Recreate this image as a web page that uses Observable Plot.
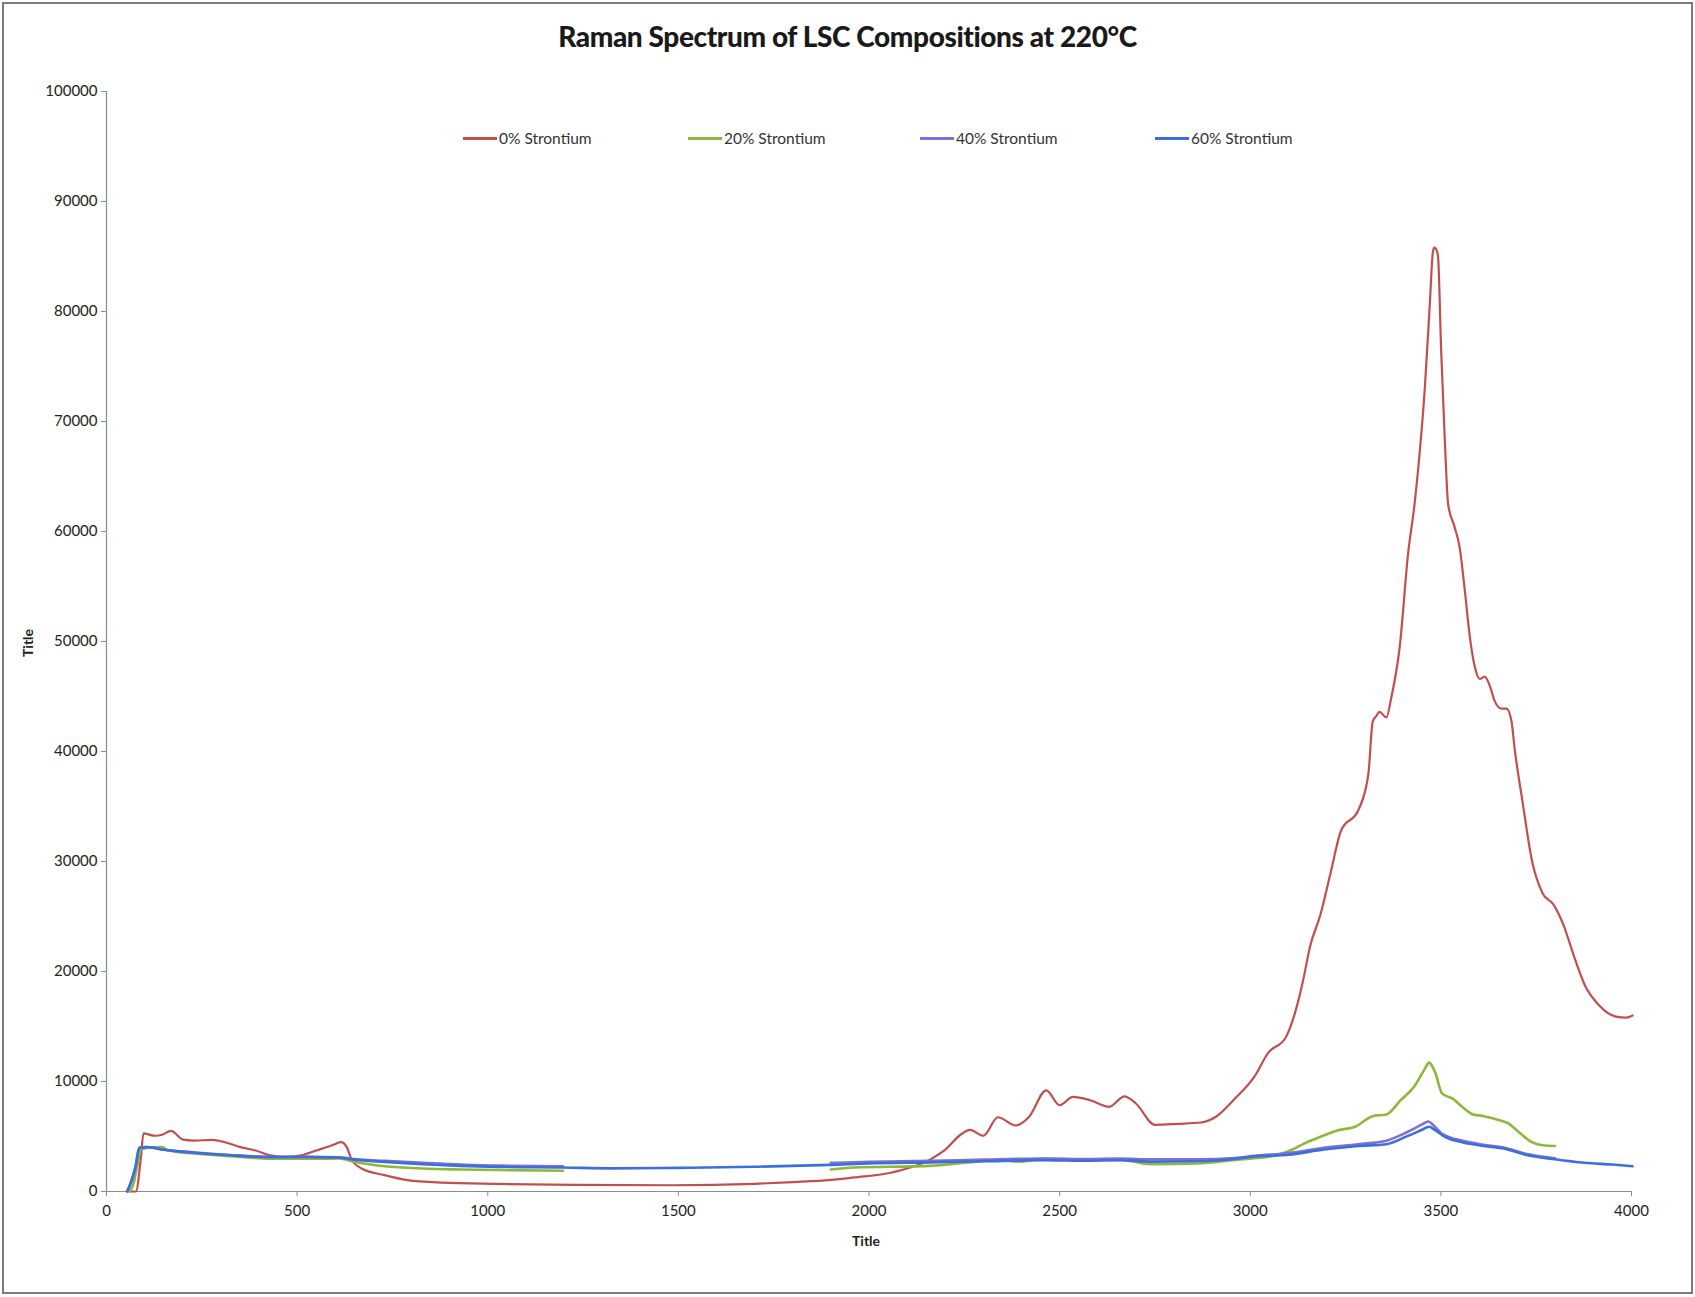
<!DOCTYPE html>
<html>
<head>
<meta charset="utf-8">
<script src="https://cdn.jsdelivr.net/npm/d3@7"></script>
<script src="https://cdn.jsdelivr.net/npm/@observablehq/plot@0.6"></script>
<style>
  html, body { margin: 0; padding: 0; background: #fff; }
  #page { position: relative; width: 1695px; height: 1297px; overflow: hidden; font-family: Lato, "Open Sans", sans-serif; }
  #frame { position: absolute; left: 2px; top: 2px; width: 1687px; height: 1288px; border: 2px solid #7a7a7a; pointer-events: none; }
  #title { position: absolute; left: 0; top: 0; width: 1695px; height: 60px; text-align: center; font-weight: 900; font-size: 28px; line-height: 72px; color: #1a1a1a; letter-spacing: -0.4px; }
  #chart { position: absolute; left: 0; top: 60px; }
  .legend { position: absolute; top: 129px; font-size: 15.5px; color: #333; display: flex; align-items: center; white-space: nowrap; }
  .legend .sw { display: inline-block; width: 34px; height: 3px; margin-right: 2px; }
  .axtitle { position: absolute; font-weight: 700; font-size: 14px; color: #222; }
</style>
</head>
<body>
<div id="page">
  <div id="title">Raman Spectrum of LSC Compositions at 220°C</div>
  <div id="chart"></div>
  <div id="legend"></div>
  <div class="axtitle" style="left:852px; top:1232px;">Title</div>
  <div class="axtitle" style="left:12px; top:632px; transform: rotate(-90deg); transform-origin: 16px 9px;">Title</div>
  <div id="frame"></div>
</div>
<script>
// ---- Data ----
const seriesNames = ["0% Strontium", "20% Strontium", "40% Strontium", "60% Strontium"];
const seriesColors = ["#c0504d", "#8db83a", "#7f6fd6", "#3c6fdc"];

const xTicks = [0, 500, 1000, 1500, 2000, 2500, 3000, 3500, 4000];
const yTicks = [0, 10000, 20000, 30000, 40000, 50000, 60000, 70000, 80000, 90000, 100000];

// 0% Strontium (one continuous trace)
const sr0_x = [62, 77, 90, 97, 127, 146, 169, 201, 231, 276, 311, 351, 391, 430, 470, 510, 550, 590, 615, 630, 644, 669, 729, 789, 879, 1028, 1227, 1486, 1700, 1800, 1900, 1960, 2060, 2160, 2200, 2240, 2265, 2300, 2338, 2385, 2420, 2465, 2500, 2535, 2580, 2630, 2670, 2700, 2750, 2810, 2870, 2910, 2960, 3010, 3047, 3093, 3120, 3138, 3157, 3184, 3211, 3238, 3284, 3310, 3321, 3330, 3339, 3357, 3370, 3392, 3414, 3431, 3444, 3458, 3471, 3479, 3483, 3492, 3501, 3510, 3519, 3536, 3549, 3562, 3576, 3589, 3602, 3615, 3628, 3641, 3659, 3672, 3685, 3694, 3713, 3740, 3767, 3795, 3822, 3850, 3877, 3913, 3959, 3986, 4003];
const sr0_y = [0, 0, 3000, 5280, 5070, 5160, 5520, 4720, 4630, 4690, 4480, 4030, 3730, 3280, 3130, 3280, 3730, 4180, 4480, 4030, 2840, 2090, 1490, 1040, 810, 690, 600, 570, 700, 850, 1050, 1280, 1730, 2900, 3800, 5160, 5600, 5070, 6750, 6000, 6800, 9200, 7850, 8600, 8300, 7700, 8650, 8000, 6060, 6150, 6270, 6800, 8450, 10400, 12600, 14000, 16560, 19100, 22300, 25160, 29000, 32800, 34700, 38000, 42700, 43200, 43600, 43100, 44900, 49500, 58000, 62500, 67000, 73100, 80700, 85400, 85800, 85200, 76200, 68600, 62500, 60400, 58600, 54900, 50400, 47700, 46600, 46800, 46000, 44600, 43900, 43900, 42800, 40100, 35700, 29900, 27100, 26100, 24200, 21300, 18800, 17000, 15900, 15800, 16000];

// 20% Strontium (two recorded windows)
const sr20a_x = [60, 70, 80, 90, 106, 146, 160, 231, 331, 430, 530, 610, 649, 729, 829, 928, 1028, 1197];
const sr20a_y = [0, 600, 2200, 3800, 3950, 4050, 3750, 3450, 3200, 2980, 2980, 3000, 2700, 2300, 2090, 2000, 1950, 1880];
const sr20b_x = [1900, 1960, 2160, 2260, 2340, 2390, 2460, 2560, 2660, 2740, 2860, 2960, 3060, 3111, 3148, 3193, 3230, 3275, 3321, 3357, 3394, 3430, 3458, 3469, 3485, 3503, 3531, 3558, 3585, 3613, 3649, 3676, 3704, 3740, 3768, 3799];
const sr20b_y = [2000, 2180, 2330, 2630, 2870, 2720, 2990, 2900, 2870, 2480, 2540, 2870, 3220, 3820, 4460, 5100, 5570, 5890, 6850, 7000, 8280, 9550, 11150, 11720, 10830, 8920, 8440, 7640, 7000, 6850, 6530, 6210, 5410, 4460, 4200, 4140];

// 40% Strontium (two recorded windows)
const sr40a_x = [55, 66, 76, 86, 106, 151, 231, 331, 430, 530, 610, 649, 729, 829, 928, 1028, 1197];
const sr40a_y = [0, 1000, 2200, 3950, 4050, 3800, 3550, 3300, 3150, 3150, 3100, 2950, 2780, 2600, 2450, 2350, 2300];
const sr40b_x = [1900, 2000, 2160, 2300, 2460, 2560, 2660, 2740, 2860, 2960, 3011, 3102, 3193, 3284, 3357, 3412, 3448, 3467, 3480, 3503, 3558, 3603, 3667, 3722, 3799];
const sr40b_y = [2600, 2700, 2780, 2900, 3000, 2950, 2990, 2930, 2930, 3050, 3250, 3500, 3980, 4300, 4620, 5410, 6050, 6370, 6050, 5250, 4620, 4300, 3980, 3440, 3030];

// 60% Strontium (one continuous trace)
const sr60_x = [54, 66, 76, 86, 106, 151, 231, 331, 430, 530, 610, 649, 729, 829, 928, 1028, 1197, 1327, 1500, 1700, 1900, 2000, 2160, 2300, 2460, 2560, 2660, 2740, 2860, 2960, 3011, 3102, 3193, 3284, 3357, 3412, 3448, 3469, 3485, 3512, 3558, 3613, 3667, 3722, 3799, 3877, 3950, 4003];
const sr60_y = [0, 1040, 2240, 3970, 4030, 3790, 3520, 3280, 3130, 3130, 3070, 2900, 2690, 2480, 2330, 2240, 2180, 2100, 2150, 2250, 2420, 2550, 2650, 2750, 2850, 2800, 2840, 2720, 2750, 2950, 3180, 3340, 3820, 4140, 4300, 5030, 5570, 5890, 5570, 4940, 4460, 4140, 3890, 3340, 2930, 2610, 2450, 2300];

// ---- Build table ----
function seg(series, segment, xs, ys) {
  return xs.map((x, i) => ({series, segment, x, y: ys[i]}));
}
const rows = [
  ...seg(seriesNames[0], "a", sr0_x, sr0_y),
  ...seg(seriesNames[1], "a", sr20a_x, sr20a_y),
  ...seg(seriesNames[1], "b", sr20b_x, sr20b_y),
  ...seg(seriesNames[2], "a", sr40a_x, sr40a_y),
  ...seg(seriesNames[2], "b", sr40b_x, sr40b_y),
  ...seg(seriesNames[3], "a", sr60_x, sr60_y)
];

const axisGray = "#8c8c8c";

const plot = Plot.plot({
  width: 1695,
  height: 1237,
  marginLeft: 106,
  marginRight: 64,
  marginTop: 31,
  marginBottom: 106,
  style: {fontFamily: "Lato, 'Open Sans', sans-serif", fontSize: "15px", color: "#222", background: "transparent"},
  x: {domain: [0, 4000], label: null},
  y: {domain: [0, 100000], label: null},
  color: {domain: seriesNames, range: seriesColors},
  marks: [
    Plot.ruleY([0], {stroke: axisGray, strokeWidth: 1.2}),
    Plot.ruleX([0], {stroke: axisGray, strokeWidth: 1.2}),
    Plot.axisX({ticks: xTicks, tickFormat: d => String(d), tickSize: 5, tickPadding: 9, stroke: axisGray, fill: "#222", label: null}),
    Plot.axisY({ticks: yTicks, tickFormat: d => String(d), tickSize: 5, tickPadding: 4, stroke: axisGray, fill: "#222", label: null}),
    ...seriesNames.map((name, i) =>
      Plot.line(rows.filter(d => d.series === name), {
        x: "x", y: "y", z: "segment",
        stroke: seriesColors[i],
        strokeWidth: i === 0 ? 2.2 : 2.6,
        curve: "monotone-x"
      })
    )
  ]
});
document.getElementById("chart").appendChild(plot);

// ---- Legend ----
const legendLeft = [463, 688, 920, 1155];
const legend = document.getElementById("legend");
seriesNames.forEach((name, i) => {
  const item = document.createElement("div");
  item.className = "legend";
  item.style.left = legendLeft[i] + "px";
  const sw = document.createElement("span");
  sw.className = "sw";
  sw.style.background = seriesColors[i];
  item.appendChild(sw);
  item.appendChild(document.createTextNode(name));
  legend.appendChild(item);
});
</script>
</body>
</html>
